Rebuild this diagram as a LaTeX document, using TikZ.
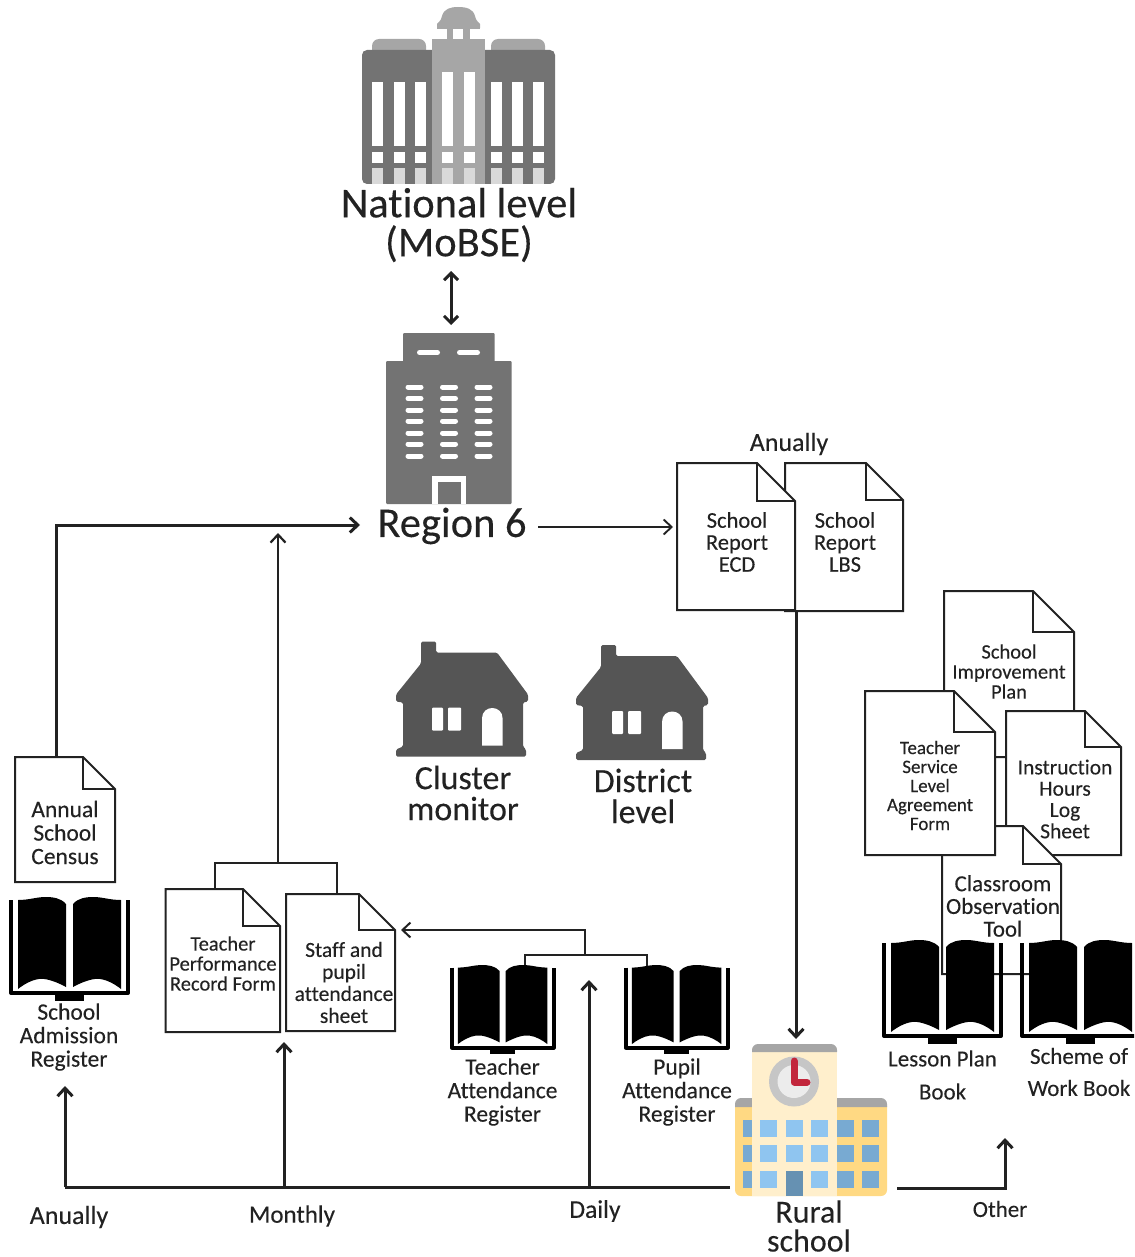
\documentclass[tikz,border=0pt]{standalone}
\usepackage{fontspec}
\setmainfont{Carlito}[Ligatures=NoCommon,FakeBold=0.2,AutoFakeBold=0.2]
\usetikzlibrary{arrows.meta}

\definecolor{inkdark}{HTML}{222222}
\definecolor{towergrey}{HTML}{737373}
\definecolor{roofgrey}{HTML}{A6A6A6}
\definecolor{housegrey}{HTML}{555555}
\definecolor{wingyellow}{HTML}{FFD983}
\definecolor{towercream}{HTML}{FFEFCC}
\definecolor{glasslight}{HTML}{8FC5F0}
\definecolor{glassdark}{HTML}{78AAD2}

\tikzset{
  sheet/.style={draw=inkdark,fill=white,line width=2pt},
  link/.style={draw=inkdark,line width=3pt},
  thinlink/.style={draw=inkdark,line width=2.2pt},
  arrowlink/.style={link,-{Straight Barb[length=8pt,width=15pt]}},
  bigtext/.style={align=center,inner sep=0pt,text=inkdark,font=\fontsize{42.5}{39}\bfseries\selectfont},
  midtext/.style={align=center,inner sep=0pt,text=inkdark,font=\fontsize{34}{31}\bfseries\selectfont},
  smalltext/.style={align=center,inner sep=0pt,text=inkdark,font=\fontsize{23.5}{23.5}\bfseries\selectfont}
}

% name, left, top, right, bottom, fold
\newcommand{\docsheet}[6]{
  \path[sheet] (#2,#3) -- ({#4-#6},#3) -- (#4,{#3+#6}) -- (#4,#5) -- (#2,#5) -- cycle;
  \path[sheet,fill=none] ({#4-#6},#3) -- ({#4-#6},{#3+#6}) -- (#4,{#3+#6});
  \coordinate (#1) at ({(#2+#4)/2},{(#3+#5)/2});
}

% left, top, xscale, yscale
\newcommand{\bookicon}[4]{
  \begin{scope}[shift={(#1,#2)},xscale=#3,yscale=#4]
    \draw[line width=4pt,line join=round] (2,3) -- (2,96) -- (119,96) -- (119,3);
    \fill (46,96) rectangle (75,104);
    \fill (9,3) .. controls (20,3) and (28,0) .. (36,0) .. controls (44,0) and (52,1) .. (57,7)
      -- (57,90) .. controls (46,84) and (36,81) .. (30,82) .. controls (22,83) and (14,88) .. (9,92) -- cycle;
    \fill (112,3) .. controls (101,3) and (93,0) .. (85,0) .. controls (77,0) and (69,1) .. (64,7)
      -- (64,90) .. controls (75,84) and (85,81) .. (91,82) .. controls (99,83) and (107,88) .. (112,92) -- cycle;
  \end{scope}
}

% left, top
\newcommand{\houseicon}[2]{
  \begin{scope}[shift={(#1,#2)}]
    \fill[housegrey,rounded corners=1.5pt] (25,0) -- (40,0) -- (40,11) -- (101,11) -- (132,53) -- (132,60)
      -- (127,61) -- (127,105) -- (130,108) -- (130,115) -- (0,115) -- (0,108) -- (7,105) -- (7,61)
      -- (0,60) -- (0,53) -- (25,22) -- cycle;
    \fill[white,rounded corners=1pt] (36,66) rectangle (47,89);
    \fill[white,rounded corners=1pt] (52,66) rectangle (65,89);
    \fill[white] (86,104) -- (86,77) .. controls (86,63) and (106.6,63) .. (106.6,77) -- (106.6,104) -- cycle;
  \end{scope}
}

\begin{document}
\begin{tikzpicture}[x=1pt,y=-1pt]
  \path[use as bounding box,clip] (0,0) rectangle (1134,1257);

  % national building
  \fill[roofgrey,rounded corners=7pt] (372,60) -- (372,39) -- (426,39) -- (426,60) -- cycle;
  \fill[roofgrey,rounded corners=7pt] (491,60) -- (491,39) -- (545,39) -- (545,60) -- cycle;
  \fill[towergrey,rounded corners=5pt] (362,50) rectangle (555,184);
  \fill[roofgrey] (437,28) -- (437,24) .. controls (441,20) and (442,18) .. (442,16)
    .. controls (444,9) and (450,7) .. (458,7) .. controls (467,7) and (473,9) .. (475,16)
    .. controls (475,18) and (476,20) .. (480,24) -- (480,28) -- cycle;
  \fill[roofgrey] (437,28) rectangle (480,40);
  \fill[white] (437,29) rectangle (447,39);
  \fill[white] (453,29) rectangle (463,39);
  \fill[white] (469.5,29) rectangle (479.5,39);
  \fill[roofgrey] (432,39) rectangle (485,184);
  \foreach \winx in {372,394,415,491,512,533}{
    \fill[white] (\winx,82) rectangle ++(11,64.5);
    \fill[white] (\winx,152) rectangle ++(11,11.5);
    \fill[white!85!black] (\winx,168) rectangle ++(11,16);
  }
  \foreach \winx in {442,464}{
    \fill[white] (\winx,72) rectangle ++(11,74.5);
    \fill[white] (\winx,152) rectangle ++(11,11.5);
    \fill[white!85!black] (\winx,168) rectangle ++(11,16);
  }
  \node[bigtext] (national) at (459,225) {National level\\(MoBSE)};

  % region building
  \fill[towergrey,rounded corners=1pt] (403,333) rectangle (494.5,362);
  \fill[towergrey,rounded corners=1pt] (386,361) rectangle (511.5,504);
  \foreach \slotx in {417.5,457.5}{
    \draw[white,line width=5pt,line cap=round] (\slotx+2,352.5) -- ++(18,0);
  }
  \foreach \sloty in {387,398.5,410,421,433,444,456}{
    \draw[white,line width=5pt,line cap=round] (408,\sloty) -- ++(13,0);
    \draw[white,line width=5pt,line cap=round] (442.5,\sloty) -- ++(13,0);
    \draw[white,line width=5pt,line cap=round] (477,\sloty) -- ++(13,0);
  }
  \fill[white] (432,476) rectangle (466,504);
  \fill[towergrey] (437.5,482) rectangle (460.5,504);
  \node[bigtext] (region) at (452,526) {Region 6};

  % houses
  \houseicon{396}{641.5}
  \houseicon{576}{645}
  \node[midtext] (cluster) at (463,793) {Cluster\\monitor};
  \node[midtext] (district) at (643,796) {District\\level};

  % rural school
  \fill[wingyellow,rounded corners=6pt] (735,1100) rectangle (887,1196);
  \fill[roofgrey] (735,1107) {[rounded corners=6pt] -- (735,1098) -- (887,1098)} -- (887,1107) -- cycle;
  \fill[towercream] (752,1048) rectangle (837,1196);
  \fill[roofgrey] (752,1052) {[rounded corners=6pt] -- (752,1044) -- (837,1044)} -- (837,1052) -- cycle;
  \fill[gray!45] (794,1081.5) circle (25);
  \fill[gray!15] (794,1081.5) circle (16.5);
  \draw[red!50!purple!70!gray,line width=7pt,line cap=round,line join=round] (794,1061) -- (794,1082) -- (807,1082);
  \foreach \rowy in {1119.5,1145,1170.5}{
    \fill[glassdark] (743,\rowy) rectangle ++(9,17);
    \fill[glasslight] (760,\rowy) rectangle ++(17,17);
    \fill[glasslight] (810.5,\rowy) rectangle ++(17,17);
    \fill[glassdark] (836.5,\rowy) rectangle ++(17,17);
    \fill[glassdark] (862,\rowy) rectangle ++(17,17);
  }
  \fill[glasslight] (785.5,1119.5) rectangle ++(17,17);
  \fill[glasslight] (785.5,1145) rectangle ++(17,17);
  \fill[glassdark!85!black] (785.5,1170.5) rectangle (802.5,1196);
  \node[midtext,font=\fontsize{32}{29}\bfseries\selectfont] (rural) at (809,1226) {Rural\\school};

  % free ends of the connectors
  \coordinate (regionin) at (360,525);
  \coordinate (regionout) at (538,527);
  \coordinate (regionlow) at (278,533);
  \coordinate (reportin) at (673,527);
  \coordinate (nationalend) at (451,271);
  \coordinate (regiontop) at (451,325);
  \coordinate (censustop) at (56,757);
  \coordinate (censuscorner) at (56,525);
  \coordinate (reportbottom) at (796,611);
  \coordinate (schooltop) at (796,1039);
  \coordinate (schoolleft) at (730,1187);
  \coordinate (schoolright) at (897,1188);
  \coordinate (othercorner) at (1005,1188);
  \coordinate (othertop) at (1005,1138);
  \coordinate (anuallyfoot) at (65,1187);
  \coordinate (anuallytop) at (65,1086);
  \coordinate (monthlyfoot) at (284,1187);
  \coordinate (monthlytop) at (284,1042);
  \coordinate (dailyfoot) at (589,1187);
  \coordinate (dailytop) at (589,980);
  \coordinate (formleft) at (215,889);
  \coordinate (formleftup) at (215,863);
  \coordinate (formright) at (337,894);
  \coordinate (formrightup) at (337,863);
  \coordinate (formmid) at (278,863);
  \coordinate (regleft) at (525,967);
  \coordinate (regleftup) at (525,955);
  \coordinate (regright) at (647,967);
  \coordinate (regrightup) at (647,955);
  \coordinate (regmid) at (585,955);
  \coordinate (regcorner) at (585,930);
  \coordinate (staffin) at (401,930);

  % connectors
  \draw[arrowlink,{Straight Barb[length=7pt,width=14pt]}-{Straight Barb[length=7pt,width=14pt]}] (nationalend) -- (regiontop);
  \draw[arrowlink] (censustop) -- (censuscorner) -- (regionin);
  \draw[arrowlink,line width=2.2pt] (formmid) -- (regionlow);
  \draw[arrowlink,line width=1.9pt] (regionout) -- (reportin);
  \draw[arrowlink] (reportbottom) -- (schooltop);
  \draw[thinlink] (formleft) -- (formleftup) -- (formrightup) -- (formright);
  \draw[thinlink] (regleft) -- (regleftup) -- (regrightup) -- (regright);
  \draw[arrowlink,line width=2pt] (regmid) -- (regcorner) -- (staffin);
  \draw[link] (schoolleft) -- (anuallyfoot);
  \draw[arrowlink] (anuallyfoot) -- (anuallytop);
  \draw[arrowlink] (monthlyfoot) -- (monthlytop);
  \draw[arrowlink] (dailyfoot) -- (dailytop);
  \draw[arrowlink] (schoolright) -- (othercorner) -- (othertop);

  % sheets, back to front
  \docsheet{census}{15}{757}{115}{882}{32}
  \docsheet{performance}{165.5}{889}{280}{1032}{37}
  \docsheet{staff}{286}{894}{395}{1031}{36}
  \docsheet{lbs}{785}{463}{903}{611}{37}
  \docsheet{ecd}{677}{463}{795}{610}{38}
  \docsheet{improvement}{944}{591}{1074}{757}{41}
  \docsheet{instruction}{1006}{711}{1121}{855}{36}
  \docsheet{classroom}{942}{826}{1061}{974}{38}
  \docsheet{service}{865}{691}{995}{855}{41}

  \node[smalltext] (censustext) at (65,832.5) {Annual\\School\\Census};
  \node[smalltext,font=\fontsize{20.5}{20}\bfseries\selectfont] (performancetext) at (223,963.5) {Teacher\\Performance\\Record Form};
  \node[smalltext,font=\fontsize{21.5}{22}\bfseries\selectfont] (stafftext) at (344,982.5) {Staff and\\pupil\\attendance\\sheet};
  \node[smalltext,font=\fontsize{22.5}{22}\bfseries\selectfont] (ecdtext) at (737,542) {School\\Report\\ECD};
  \node[smalltext,font=\fontsize{22.5}{22}\bfseries\selectfont] (lbstext) at (845,542) {School\\Report\\LBS};
  \node[smalltext,font=\fontsize{20.5}{20}\bfseries\selectfont] (improvementtext) at (1009,671.5) {School\\Improvement\\Plan};
  \node[smalltext,font=\fontsize{21.5}{21.3}\bfseries\selectfont] (instructiontext) at (1065,799) {Instruction\\Hours\\Log\\Sheet};
  \node[smalltext,font=\fontsize{19}{19}\bfseries\selectfont] (servicetext) at (930,785.5) {Teacher\\Service\\Level\\Agreement\\Form};
  \node[smalltext,font=\fontsize{23}{22.7}\bfseries\selectfont] (classroomtext) at (1003,906) {Classroom\\Observation\\Tool};

  % books
  \bookicon{9}{897}{1}{1}
  \bookicon{450}{965}{0.87}{0.86}
  \bookicon{624}{965}{0.87}{0.86}
  \bookicon{882}{940}{1}{1}
  \bookicon{1020}{940}{1}{1}

  \node[smalltext] (admission) at (69,1037) {School\\Admission\\Register};
  \node[smalltext] (teacherreg) at (502.5,1092) {Teacher\\Attendance\\Register};
  \node[smalltext] (pupilreg) at (677,1092) {Pupil\\Attendance\\Register};
  \node[smalltext,font=\fontsize{23}{33}\bfseries\selectfont] (lesson) at (942.5,1075) {Lesson Plan\\Book};
  \node[smalltext,font=\fontsize{23}{32}\bfseries\selectfont] (scheme) at (1079,1072) {Scheme of\\Work Book};

  % frequency labels
  \node[smalltext,font=\fontsize{26}{26}\bfseries\selectfont] (anuallytoplabel) at (789,444) {Anually};
  \node[smalltext,font=\fontsize{26}{26}\bfseries\selectfont] (anuallylabel) at (69,1217) {Anually};
  \node[smalltext,font=\fontsize{25}{25}\bfseries\selectfont] (monthlylabel) at (292,1216) {Monthly};
  \node[smalltext,font=\fontsize{25.5}{25}\bfseries\selectfont] (dailylabel) at (595,1211) {Daily};
  \node[smalltext,font=\fontsize{23}{23}\bfseries\selectfont] (otherlabel) at (1000,1209) {Other};
\end{tikzpicture}
\end{document}
